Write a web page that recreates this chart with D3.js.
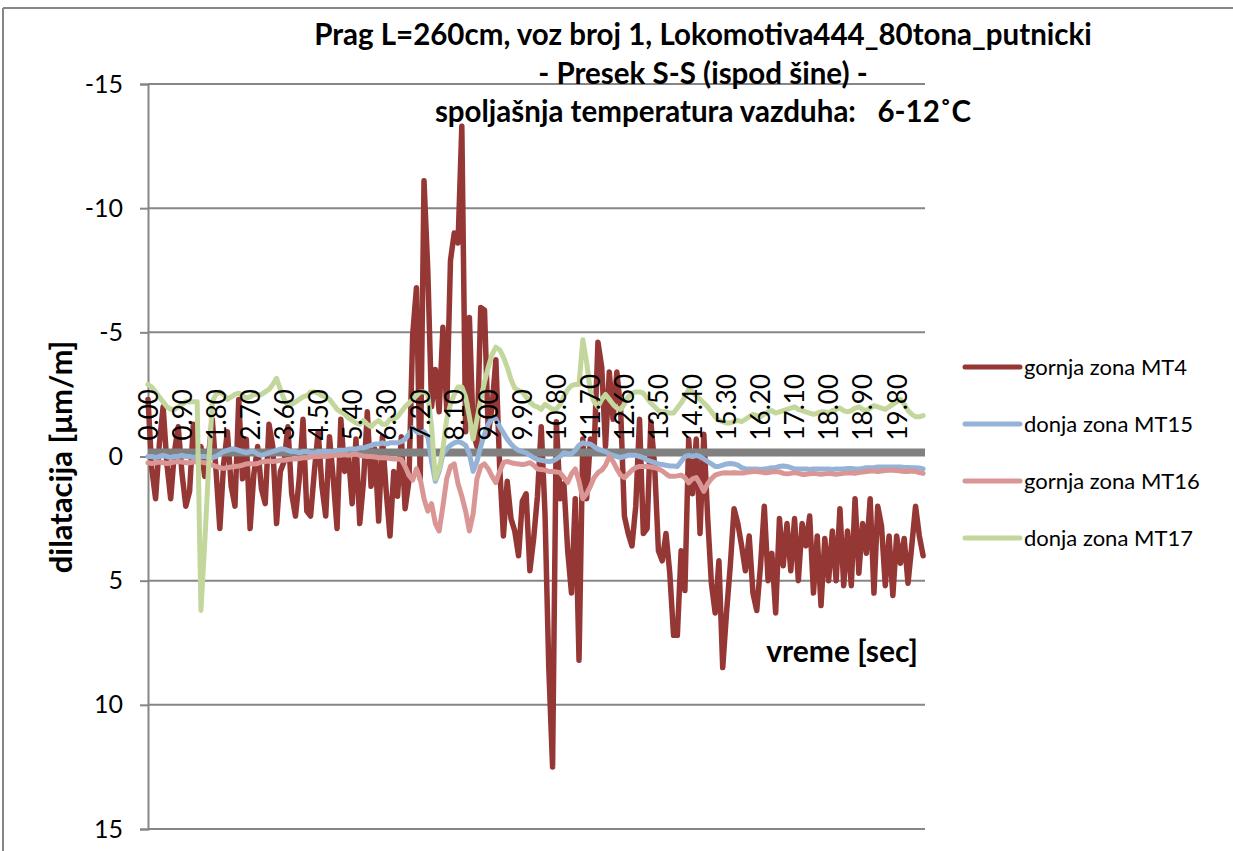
<!DOCTYPE html>
<html><head><meta charset="utf-8">
<script src="https://cdn.jsdelivr.net/npm/d3@7/dist/d3.min.js"></script>
<style>
body{margin:0;background:#fff;}
text{font-family:Lato,"Open Sans",sans-serif;fill:#000;}
</style>
</head><body>
<svg id="chart" width="1233" height="851"></svg>
<script>
// ---- data (time step 0.1 s) ----
const timeStep = 0.1;
const xTickLabels = ["0.00","0.90","1.80","2.70","3.60","4.50","5.40","6.30","7.20","8.10","9.00","9.90","10.80","11.70","12.60","13.50","14.40","15.30","16.20","17.10","18.00","18.90","19.80"];
const yTickValues = [-15,-10,-5,0,5,10,15];
const seriesNames = ["gornja zona MT4","donja zona MT15","gornja zona MT16","donja zona MT17"];

const mt4 = [
-2.3,0.5,1.7,-0.5,-2.0,0.3,1.7,-0.2,-1.2,0.7,
2.0,1.4,-1.3,0.2,-0.4,0.8,0.0,-1.5,0.6,2.9,
0.3,-1.0,1.2,2.0,-2.3,0.9,-0.7,2.9,0.7,-0.4,
1.3,1.9,-1.3,-0.4,2.7,0.6,0.2,-1.2,1.5,2.4,
0.9,-1.5,2.2,2.4,0.6,-1.0,1.2,2.4,-0.8,0.9,
2.9,-1.5,0.6,-0.1,1.9,-0.7,2.7,1.0,-1.8,1.2,
-0.3,2.6,-0.8,1.4,3.2,0.6,1.6,-0.8,2.1,1.0,
-4.9,-6.8,0.9,-11.1,-7.5,-2.0,-3.5,-1.8,-5.2,-1.9,
-7.9,-9.0,-8.6,-13.3,-1.0,-5.6,-1.0,-0.4,-6.0,-5.9,
-0.9,-2.0,-3.9,0.4,3.2,1.0,2.5,3.0,4.0,1.8,
1.5,4.6,3.3,1.6,
-1.2,2.3,8.5,12.5,-1.4,1.7,1.1,3.8,5.5,1.7,
8.2,-0.7,1.7,-0.7,-0.3,-4.6,-3.6,-0.4,-3.4,-1.5,
-3.4,-1.9,2.4,3.1,3.6,2.0,-1.5,3.1,2.9,-1.4,
0.4,3.8,4.2,3.1,4.7,7.2,7.2,3.8,5.4,-0.7,
1.5,-0.7,3.1,-0.9,2.4,5.1,6.3,4.2,8.5,6.3,
4.4,2.1,2.7,3.6,4.6,3.2,5.5,6.2,4.4,2.0,
5.0,3.9,6.3,2.5,4.4,2.7,4.6,2.5,5.0,2.7,
3.6,2.4,5.5,3.2,6.0,3.3,5.0,3.0,5.0,2.1,
5.2,3.0,5.2,1.7,4.7,2.7,3.9,1.7,5.5,2.0,
2.8,5.2,3.2,5.6,3.2,4.3,3.3,5.1,3.6,2.0,
3.2,4.0
];

const mt15 = [
0.0,0.0,0.05,0.0,-0.05,0.0,0.05,0.0,0.0,-0.05,
0.0,0.0,0.05,0.0,0.0,0.0,0.05,0.05,0.0,-0.1,
-0.2,-0.25,-0.3,-0.3,-0.25,-0.2,-0.15,-0.2,-0.2,-0.1,
-0.05,-0.1,-0.15,-0.2,-0.25,-0.3,-0.3,-0.25,-0.2,-0.2,
-0.15,-0.2,-0.2,-0.15,-0.15,-0.2,-0.2,-0.2,-0.2,-0.2,
-0.25,-0.25,-0.25,-0.3,-0.3,-0.3,-0.35,-0.35,-0.4,-0.45,
-0.5,-0.5,-0.55,-0.5,-0.55,-0.55,-0.55,-0.6,-0.7,-0.9,
-1.15,-1.0,-0.95,-1.0,-0.8,0.2,1.0,0.6,-0.1,-0.3,
-0.45,-0.55,-0.6,-0.55,-0.45,-0.1,0.6,0.2,-0.4,-0.9,
-1.3,-1.55,-1.5,-1.2,-0.95,-0.7,-0.5,-0.35,-0.25,-0.2,
-0.15,-0.05,0.05,0.12,0.15,0.18,0.2,0.18,0.1,0.0,
-0.15,-0.12,-0.1,-0.25,-0.45,-0.55,-0.5,-0.5,-0.4,-0.3,
-0.25,-0.2,-0.1,-0.05,0.0,0.05,0.0,-0.05,-0.05,-0.05,
0.0,0.05,0.15,0.2,0.25,0.3,0.32,0.35,0.38,0.38,
0.4,0.2,0.0,-0.05,0.0,-0.05,0.0,0.1,0.2,0.3,
0.4,0.4,0.35,0.3,0.28,0.3,0.35,0.45,0.5,0.5,
0.5,0.5,0.52,0.5,0.48,0.45,0.45,0.4,0.38,0.4,
0.45,0.5,0.5,0.5,0.5,0.52,0.5,0.5,0.5,0.5,
0.5,0.52,0.5,0.5,0.5,0.48,0.48,0.5,0.5,0.48,
0.45,0.45,0.45,0.42,0.42,0.42,0.42,0.42,0.42,0.42,
0.44,0.44,0.45,0.45,0.46,0.5
];

const mt16 = [
0.25,0.28,0.25,0.22,0.25,0.28,0.25,0.22,0.2,0.22,
0.25,0.25,0.22,0.2,0.22,0.25,0.3,0.35,0.4,0.45,
0.48,0.45,0.42,0.4,0.38,0.35,0.3,0.28,0.3,0.28,
0.22,0.2,0.18,0.2,0.18,0.15,0.15,0.12,0.1,0.1,
0.08,0.05,0.05,0.02,0.0,0.0,-0.02,0.0,-0.02,-0.05,
-0.05,-0.05,-0.08,-0.05,-0.08,-0.1,-0.05,-0.02,0.0,0.0,
0.02,0.05,0.05,0.05,0.08,0.1,0.1,0.12,0.4,0.75,
0.95,0.5,0.9,1.7,2.2,1.9,2.7,3.0,2.0,0.9,
0.4,0.3,1.1,1.6,2.2,3.0,2.3,0.9,0.4,0.3,
0.5,0.8,1.05,0.6,0.25,0.2,0.25,0.28,0.3,0.32,
0.3,0.25,0.35,0.5,0.52,0.55,0.6,0.6,0.62,0.65,
0.85,1.05,0.7,0.5,1.0,1.7,1.5,1.2,0.85,0.65,
0.55,0.35,0.0,0.2,0.5,0.75,0.85,0.7,0.55,0.45,
0.4,0.4,0.4,0.42,0.45,0.5,0.58,0.7,0.8,0.8,
0.78,0.75,0.85,1.06,0.9,0.85,1.1,1.4,1.1,0.9,
0.75,0.7,0.66,0.65,0.66,0.65,0.66,0.66,0.65,0.62,
0.6,0.6,0.62,0.65,0.65,0.62,0.6,0.62,0.68,0.7,
0.68,0.65,0.68,0.72,0.72,0.7,0.68,0.7,0.72,0.7,
0.68,0.7,0.72,0.7,0.68,0.66,0.66,0.68,0.65,0.62,
0.6,0.58,0.58,0.6,0.58,0.56,0.55,0.55,0.56,0.58,
0.6,0.6,0.58,0.6,0.65,0.68
];

const mt17 = [
-2.9,-2.8,-2.6,-2.4,-2.2,-2.0,-1.9,-1.9,-2.0,-2.1,
-2.2,-2.2,-2.2,-2.2,6.2,3.5,0.5,-2.2,-2.5,-2.6,
-2.5,-2.3,-2.4,-2.5,-2.55,-2.45,-2.35,-2.4,-2.5,-2.5,
-2.5,-2.6,-2.7,-2.9,-3.15,-2.7,-2.3,-2.05,-2.1,-2.2,
-2.3,-2.4,-2.45,-2.6,-2.6,-2.55,-2.45,-2.4,-2.3,-2.1,
-1.9,-1.8,-1.7,-1.55,-1.45,-1.35,-1.3,-1.45,-1.3,-1.2,
-1.35,-1.45,-1.3,-1.3,-1.5,-1.5,-1.6,-1.8,-2.0,-2.15,
-2.3,-2.45,-2.6,-2.6,-2.5,-1.2,0.9,0.5,-0.3,-1.5,
-2.1,-2.5,-2.8,-2.8,-2.4,-1.6,-0.7,-1.5,-2.3,-3.0,
-3.6,-4.1,-4.4,-4.3,-4.0,-3.6,-3.1,-2.75,-2.65,-2.6,
-2.4,-2.2,-2.05,-2.0,-1.9,-2.1,-2.0,-1.9,-1.9,-2.1,
-2.4,-2.7,-2.85,-2.9,-2.9,-4.7,-3.8,-2.6,-2.2,-2.0,
-2.3,-2.5,-2.3,-2.1,-1.95,-1.9,-2.1,-2.4,-2.55,-2.6,
-2.6,-2.55,-2.35,-2.15,-2.0,-1.85,-1.8,-1.8,-1.75,-1.75,
-1.95,-2.15,-2.4,-2.7,-2.6,-2.45,-2.3,-2.15,-2.0,-1.8,
-1.6,-1.45,-1.4,-1.35,-1.35,-1.4,-1.45,-1.4,-1.5,-1.6,
-1.7,-1.65,-1.6,-1.7,-1.8,-1.85,-1.75,-1.8,-1.85,-1.9,
-1.95,-2.0,-1.9,-1.85,-1.8,-1.75,-1.7,-1.75,-1.8,-1.8,
-1.75,-1.85,-1.9,-1.95,-1.85,-1.8,-1.85,-1.95,-2.0,-1.9,
-1.85,-1.95,-2.05,-2.0,-1.95,-1.9,-2.0,-2.1,-2.2,-2.3,
-2.1,-1.85,-1.7,-1.6,-1.6,-1.65
];

const times = mt4.map((_, i) => +(i * timeStep).toFixed(2));
const colors = ["#953735","#95B3D7","#D99694","#C3D69B"];
const seriesData = [mt4, mt15, mt16, mt17];

// ---- layout ----
const svg = d3.select("#chart");
const plot = {left:148, right:925, top:84, bottom:829};
const x = d3.scaleLinear().domain([0, 20.55]).range([plot.left, plot.right]);
const y = d3.scaleLinear().domain([-15, 15]).range([plot.top, plot.bottom]);
const gridColor = "#868686";

// chart border (top & left visible)
svg.append("line").attr("x1",3).attr("x2",1233).attr("y1",8).attr("y2",8).attr("stroke",gridColor).attr("stroke-width",2);
svg.append("line").attr("x1",3).attr("x2",3).attr("y1",8).attr("y2",851).attr("stroke",gridColor).attr("stroke-width",2);

// gridlines
svg.append("g").selectAll("line").data(yTickValues.filter(v => v !== 0)).join("line")
  .attr("x1", plot.left).attr("x2", plot.right)
  .attr("y1", d => y(d)).attr("y2", d => y(d))
  .attr("stroke", gridColor).attr("stroke-width", 2);

// y axis
const yAxis = svg.append("g").attr("transform", `translate(${plot.left},0)`)
  .call(d3.axisLeft(y).tickValues(yTickValues).tickSize(8).tickPadding(17).tickFormat(d => String(d)));
yAxis.select(".domain").attr("stroke", gridColor).attr("stroke-width", 2);
yAxis.selectAll(".tick line").attr("stroke", gridColor).attr("stroke-width", 2);
yAxis.selectAll(".tick text").style("font-family","Lato").style("font-size","25px").attr("fill","#000");

// MT4 first
const line = d3.line().x((d, i) => x(times[i])).y(d => y(d));
svg.append("path").datum(mt4).attr("d", line).attr("fill","none")
  .attr("stroke", colors[0]).attr("stroke-width", 5.5).attr("stroke-linejoin","round").attr("stroke-linecap","round");

// horizontal category axis (thick gray band at 0)
svg.append("line").attr("x1", plot.left).attr("x2", plot.right)
  .attr("y1", y(0) - 4).attr("y2", y(0) - 4)
  .attr("stroke", "#808080").attr("stroke-width", 8);

// other series
[1,2,3].forEach(k => {
  svg.append("path").datum(seriesData[k]).attr("d", line).attr("fill","none")
    .attr("stroke", colors[k]).attr("stroke-width", 5).attr("stroke-linejoin","round").attr("stroke-linecap","round");
});

// x axis labels (rotated, reading upward from just above the axis)
const xAxis = svg.append("g").attr("transform", `translate(0,${y(0)})`)
  .call(d3.axisBottom(x).tickValues(xTickLabels.map(Number)).tickSize(0).tickFormat((d, i) => xTickLabels[i]));
xAxis.select(".domain").remove();
xAxis.selectAll(".tick text")
  .attr("transform","rotate(-90)").attr("text-anchor","start")
  .attr("x", 16).attr("y", 0).attr("dy","0.36em")
  .style("font-family","Lato").style("font-size","26px").attr("fill","#000");

// titles
const titleLines = ["Prag L=260cm, voz broj 1, Lokomotiva444_80tona_putnicki","- Presek S-S (ispod šine) -","spoljašnja temperatura vazduha:   6-12˚C"];
svg.append("g").selectAll("text").data(titleLines).join("text")
  .attr("x", 703).attr("y", (d, i) => 45 + i * 38.5)
  .attr("text-anchor","middle").style("font-weight","bold").style("font-size","29.5px")
  .style("white-space","pre").attr("xml:space","preserve")
  .text(d => d);

svg.append("text").attr("transform","translate(72,457) rotate(-90)")
  .attr("text-anchor","middle").style("font-weight","bold").style("font-size","31px")
  .text("dilatacija [μm/m]");

svg.append("text").attr("x", 918).attr("y", 662).attr("text-anchor","end")
  .style("font-weight","bold").style("font-size","30px").text("vreme [sec]");

// legend
const leg = svg.append("g").selectAll("g").data(seriesNames).join("g")
  .attr("transform", (d, i) => `translate(965,${367 + i * 57})`);
leg.append("line").attr("x1",0).attr("x2",55).attr("y1",0).attr("y2",0)
  .attr("stroke",(d,i)=>colors[i]).attr("stroke-width",5).attr("stroke-linecap","round");
leg.append("text").attr("x",59).attr("y",0).attr("dy","0.35em").style("font-size","22px").text(d => d);
</script>
</body></html>
